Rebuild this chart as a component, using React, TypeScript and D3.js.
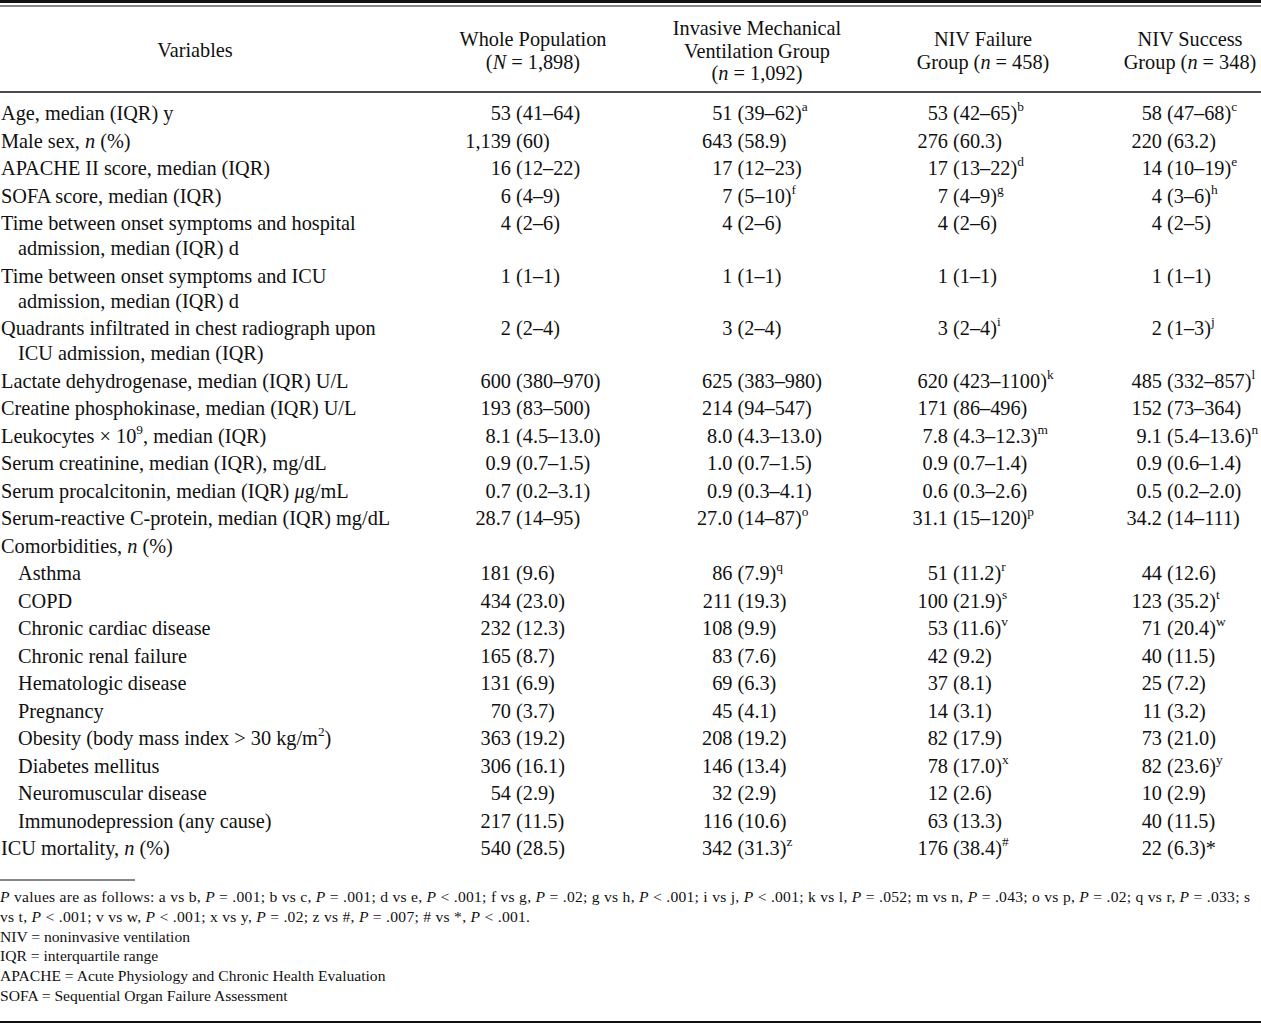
import React from "react";
import * as d3 from "d3";

// ---------- data ----------
const columnKeys = ["whole", "imv", "fail", "success"];
const columnHeaders = [
  ["Whole Population", "(~N~ = 1,898)"],
  ["Invasive Mechanical", "Ventilation Group", "(~n~ = 1,092)"],
  ["NIV Failure", "Group (~n~ = 458)"],
  ["NIV Success", "Group (~n~ = 348)"],
];
const variableHeader = "Variables";

const variableLabels = [
  ["Age, median (IQR) y"],
  ["Male sex, ~n~ (%)"],
  ["APACHE II score, median (IQR)"],
  ["SOFA score, median (IQR)"],
  ["Time between onset symptoms and hospital", "admission, median (IQR) d"],
  ["Time between onset symptoms and ICU", "admission, median (IQR) d"],
  ["Quadrants infiltrated in chest radiograph upon", "ICU admission, median (IQR)"],
  ["Lactate dehydrogenase, median (IQR) U/L"],
  ["Creatine phosphokinase, median (IQR) U/L"],
  ["Leukocytes × 10^9^, median (IQR)"],
  ["Serum creatinine, median (IQR), mg/dL"],
  ["Serum procalcitonin, median (IQR) ~μ~g/mL"],
  ["Serum-reactive C-protein, median (IQR) mg/dL"],
  ["Comorbidities, ~n~ (%)"],
  ["Asthma"],
  ["COPD"],
  ["Chronic cardiac disease"],
  ["Chronic renal failure"],
  ["Hematologic disease"],
  ["Pregnancy"],
  ["Obesity (body mass index > 30 kg/m^2^)"],
  ["Diabetes mellitus"],
  ["Neuromuscular disease"],
  ["Immunodepression (any cause)"],
  ["ICU mortality, ~n~ (%)"],
];
const indentedRows = [14, 15, 16, 17, 18, 19, 20, 21, 22, 23];

const wholePopulation = [
  "53 (41–64)", "1,139 (60)", "16 (12–22)", "6 (4–9)", "4 (2–6)", "1 (1–1)", "2 (2–4)",
  "600 (380–970)", "193 (83–500)", "8.1 (4.5–13.0)", "0.9 (0.7–1.5)", "0.7 (0.2–3.1)", "28.7 (14–95)",
  "", "181 (9.6)", "434 (23.0)", "232 (12.3)", "165 (8.7)", "131 (6.9)", "70 (3.7)", "363 (19.2)",
  "306 (16.1)", "54 (2.9)", "217 (11.5)", "540 (28.5)",
];
const imvGroup = [
  "51 (39–62)^a^", "643 (58.9)", "17 (12–23)", "7 (5–10)^f^", "4 (2–6)", "1 (1–1)", "3 (2–4)",
  "625 (383–980)", "214 (94–547)", "8.0 (4.3–13.0)", "1.0 (0.7–1.5)", "0.9 (0.3–4.1)", "27.0 (14–87)^o^",
  "", "86 (7.9)^q^", "211 (19.3)", "108 (9.9)", "83 (7.6)", "69 (6.3)", "45 (4.1)", "208 (19.2)",
  "146 (13.4)", "32 (2.9)", "116 (10.6)", "342 (31.3)^z^",
];
const nivFailure = [
  "53 (42–65)^b^", "276 (60.3)", "17 (13–22)^d^", "7 (4–9)^g^", "4 (2–6)", "1 (1–1)", "3 (2–4)^i^",
  "620 (423–1100)^k^", "171 (86–496)", "7.8 (4.3–12.3)^m^", "0.9 (0.7–1.4)", "0.6 (0.3–2.6)", "31.1 (15–120)^p^",
  "", "51 (11.2)^r^", "100 (21.9)^s^", "53 (11.6)^v^", "42 (9.2)", "37 (8.1)", "14 (3.1)", "82 (17.9)",
  "78 (17.0)^x^", "12 (2.6)", "63 (13.3)", "176 (38.4)^#^",
];
const nivSuccess = [
  "58 (47–68)^c^", "220 (63.2)", "14 (10–19)^e^", "4 (3–6)^h^", "4 (2–5)", "1 (1–1)", "2 (1–3)^j^",
  "485 (332–857)^l^", "152 (73–364)", "9.1 (5.4–13.6)^n^", "0.9 (0.6–1.4)", "0.5 (0.2–2.0)", "34.2 (14–111)",
  "", "44 (12.6)", "123 (35.2)^t^", "71 (20.4)^w^", "40 (11.5)", "25 (7.2)", "11 (3.2)", "73 (21.0)",
  "82 (23.6)^y^", "10 (2.9)", "40 (11.5)", "22 (6.3)*",
];

const footnotes = [
  "~P~ values are as follows: a vs b, ~P~ = .001; b vs c, ~P~ = .001; d vs e, ~P~ < .001; f vs g, ~P~ = .02; g vs h, ~P~ < .001; i vs j, ~P~ < .001; k vs l, ~P~ = .052; m vs n, ~P~ = .043; o vs p, ~P~ = .02; q vs r, ~P~ = .033; s",
  "vs t, ~P~ < .001; v vs w, ~P~ < .001; x vs y, ~P~ = .02; z vs #, ~P~ = .007; # vs *, ~P~ < .001.",
  "NIV = noninvasive ventilation",
  "IQR = interquartile range",
  "APACHE = Acute Physiology and Chronic Health Evaluation",
  "SOFA = Sequential Organ Failure Assessment",
];
// justified widths of the first two footnote lines (as typeset)
const footnoteWidths = [1250, 530, 0, 0, 0, 0];

// ---------- layout ----------
const W = 1261;
const H = 1025;
const FONT = '"Liberation Serif", "Times New Roman", Times, serif';
const FS = 20.3;
const FOOT_FS = 15.6;
const COLOR = "#111";

const parenX = d3.scaleOrdinal<string, number>().domain(columnKeys).range([516, 737.5, 953, 1167]);
const headerX = d3.scaleOrdinal<string, number>().domain(columnKeys).range([533, 757, 983, 1190]);

type Seg = { t: string; i: boolean; s: boolean };
function parse(text: string): Seg[] {
  const parts = text.split(/(~[^~]+~|\^[^^]+\^)/).filter((p) => p.length > 0);
  return parts.map((p) => {
    if (p.startsWith("~") && p.endsWith("~") && p.length > 1) return { t: p.slice(1, -1), i: true, s: false };
    if (p.startsWith("^") && p.endsWith("^") && p.length > 1) return { t: p.slice(1, -1), i: false, s: true };
    return { t: p, i: false, s: false };
  });
}

function Rich({ text, x, y, size, anchor = "start", width = 0 }: { text: string; x: number; y: number; size: number; anchor?: string; width?: number }) {
  const segs = parse(text);
  const rise = size * 0.42;
  let raised = false;
  const extra: any = width > 0 ? { textLength: width, lengthAdjust: "spacing" } : {};
  return (
    <text x={x} y={y} fontSize={size} textAnchor={anchor} fontFamily={FONT} fill={COLOR} style={{ whiteSpace: "pre" }} {...extra}>
      {segs.map((sg, k) => {
        let dy = 0;
        if (sg.s && !raised) { dy = -rise; raised = true; }
        else if (!sg.s && raised) { dy = rise; raised = false; }
        return (
          <tspan key={k} dy={dy || undefined} fontStyle={sg.i ? "italic" : undefined} fontSize={sg.s ? size * 0.66 : undefined}>
            {sg.t}
          </tspan>
        );
      })}
    </text>
  );
}

export default function App() {
  const columns = [wholePopulation, imvGroup, nivFailure, nivSuccess];
  const ROW_PITCH = 27.5;
  const LINE_PITCH = 25;
  const firstBaseline = 120;

  const offsets: number[] = [];
  let acc = 0;
  variableLabels.forEach((lines) => {
    offsets.push(acc);
    acc += ROW_PITCH + (lines.length - 1) * LINE_PITCH;
  });
  const yScale = d3.scaleLinear().domain([0, 1]).range([firstBaseline, firstBaseline + 1]);

  const space = FS * 0.25;

  return (
    <svg width={W} height={H} viewBox={`0 0 ${W} ${H}`} style={{ position: "absolute", left: 0, top: 0, background: "#fff" }}>
      <rect x={0} y={0} width={W} height={H} fill="#fff" />
      <line x1={0} x2={W} y1={1.5} y2={1.5} stroke={COLOR} strokeWidth={3} />
      <line x1={0} x2={W} y1={6} y2={6} stroke={COLOR} strokeWidth={1.2} />
      <Rich text={variableHeader} x={195} y={57} size={FS} anchor="middle" />
      {columnKeys.map((key, ci) => {
        const lines = columnHeaders[ci];
        const startY = lines.length === 3 ? 35 : 46;
        return (
          <g key={key}>
            {lines.map((ln, li) => (
              <Rich key={li} text={ln} x={headerX(key)} y={startY + li * 22.5} size={FS} anchor="middle" />
            ))}
          </g>
        );
      })}
      <line x1={0} x2={W} y1={92} y2={92} stroke={COLOR} strokeWidth={1.5} />
      {variableLabels.map((lines, ri) => {
        const y0 = yScale(offsets[ri]);
        const indent = indentedRows.includes(ri) ? 18 : 1;
        return (
          <g key={ri}>
            {lines.map((ln, li) => (
              <Rich key={li} text={ln} x={li === 0 ? indent : 18} y={y0 + li * LINE_PITCH} size={FS} />
            ))}
            {columnKeys.map((key, ci) => {
              const v = columns[ci][ri];
              if (!v) return null;
              const idx = v.indexOf(" (");
              const pre = idx >= 0 ? v.slice(0, idx) : v;
              const rest = idx >= 0 ? v.slice(idx + 1) : "";
              const px = parenX(key);
              return (
                <g key={key}>
                  <Rich text={pre} x={px - space} y={y0} size={FS} anchor="end" />
                  {rest && <Rich text={rest} x={px} y={y0} size={FS} />}
                </g>
              );
            })}
          </g>
        );
      })}
      <line x1={0} x2={135} y1={880} y2={880} stroke={COLOR} strokeWidth={1} />
      {footnotes.map((f, i) => (
        <Rich key={i} text={f} x={0} y={902 + i * 19.8} size={FOOT_FS} width={footnoteWidths[i]} />
      ))}
      <line x1={0} x2={W} y1={1022} y2={1022} stroke={COLOR} strokeWidth={2} />
    </svg>
  );
}
